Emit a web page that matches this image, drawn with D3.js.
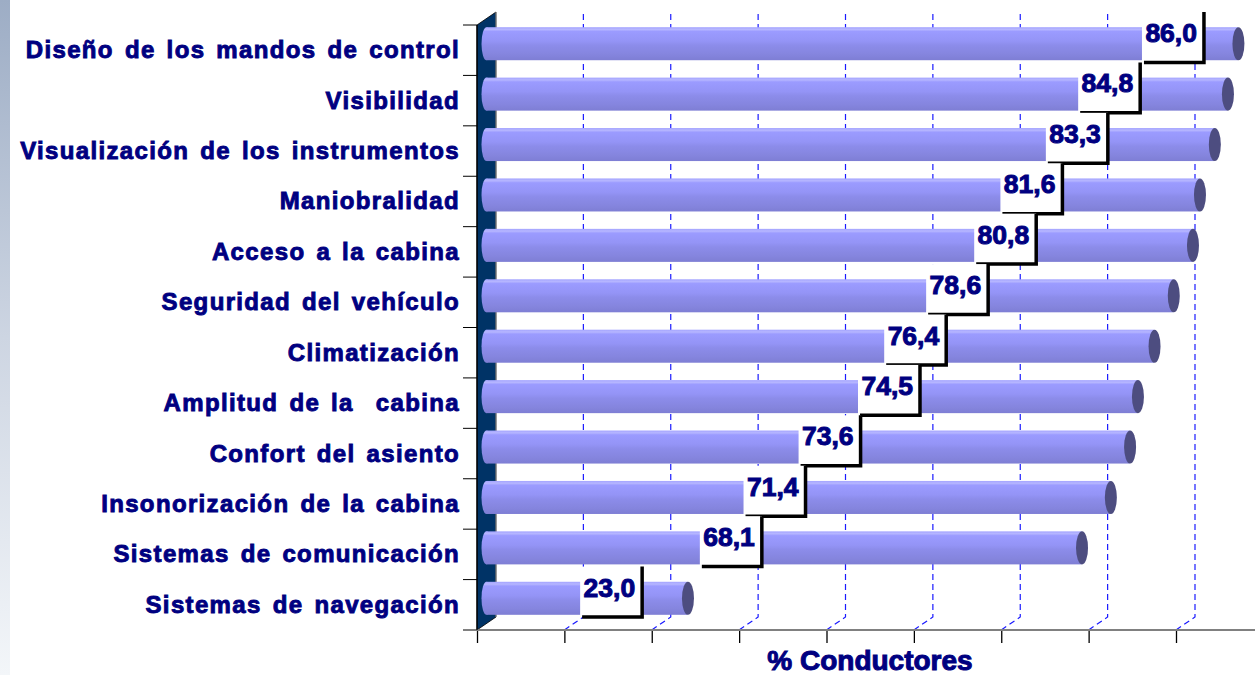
<!DOCTYPE html>
<html><head><meta charset="utf-8">
<script src="https://cdn.jsdelivr.net/npm/d3@7"></script>
<style>
body{margin:0;background:#fff;}
svg{display:block;}
text{font-family:"Liberation Sans",Arial,sans-serif;font-weight:bold;}
</style>
</head><body><svg id="chart" width="1255" height="675"></svg>
<script>
const categories = ["Diseño de los mandos de control","Visibilidad","Visualización de los instrumentos","Maniobralidad","Acceso a la cabina","Seguridad del vehículo","Climatización","Amplitud de la  cabina","Confort del asiento","Insonorización de la cabina","Sistemas de comunicación","Sistemas de navegación"];
const values = [86.0,84.8,83.3,81.6,80.8,78.6,76.4,74.5,73.6,71.4,68.1,23.0];
const labelAt = [83.2,75.9,72.2,67.0,64.0,58.5,53.7,50.7,43.9,37.6,32.6,18.9];
const xTicks = [0,10,20,30,40,50,60,70,80,90];
const axisTitle = "% Conductores";

const W = 1255, H = 675;
const dX = 19, dY = -13;
const x = d3.scaleLinear().domain([0,100]).range([477,1350.75]);
const y = d3.scaleBand().domain(categories).range([25,630]).padding(0);
const step = y.step();
const yTop = y.range()[0], yBot = y.range()[1];
const fmt = d3.formatLocale({decimal:",",thousands:".",grouping:[3],currency:["","€"]}).format(".1f");
const navy = "#000080";

const svg = d3.select("#chart");
const defs = svg.append("defs");
const sg = defs.append("linearGradient").attr("id","strip").attr("x1",0).attr("y1",0).attr("x2",0).attr("y2",1);
sg.append("stop").attr("offset",0).attr("stop-color","#9dadc5");
sg.append("stop").attr("offset",0.5).attr("stop-color","#cdd5e2");
sg.append("stop").attr("offset",1).attr("stop-color","#f3f6f9");
const bg = defs.append("linearGradient").attr("id","barg").attr("x1",0).attr("y1",0).attr("x2",0).attr("y2",1);
[[0,"#a4a4ff"],[0.07,"#b6b6ff"],[0.13,"#9b9bff"],[0.42,"#9494f6"],[0.55,"#8c8cea"],[0.82,"#8585de"],[1,"#7e7ed4"]]
  .forEach(s=>bg.append("stop").attr("offset",s[0]).attr("stop-color",s[1]));

// left gradient strip
svg.append("rect").attr("x",0).attr("y",0).attr("width",10).attr("height",H).attr("fill","url(#strip)");

// back-wall gridlines with floor diagonals
svg.append("g").selectAll("path").data(xTicks.filter(t=>t>0)).join("path")
  .attr("d",t=>`M${x(t)},${yBot}L${x(t)+dX},${yBot+dY}L${x(t)+dX},${yTop+dY}`)
  .attr("fill","none").attr("stroke","#1a1aff").attr("stroke-width",1.2).attr("stroke-dasharray","6,4");

// side wall
svg.append("path")
  .attr("d",`M${x(0)},${yTop}L${x(0)+dX},${yTop+dY}L${x(0)+dX},${yBot+dY}L${x(0)},${yBot}Z`)
  .attr("fill","#003366").attr("stroke","#000").attr("stroke-width",0.8);
svg.append("line").attr("x1",x(0)+dX).attr("x2",x(0)+dX).attr("y1",yTop+dY).attr("y2",yBot+dY)
  .attr("stroke","#9a9a9a").attr("stroke-width",1);

// x axis
const ax = svg.append("g").attr("transform",`translate(0,${yBot})`)
  .call(d3.axisBottom(x).tickValues(xTicks).tickSize(13).tickFormat(""));
ax.select(".domain").remove();
ax.selectAll(".tick line").attr("stroke","#000").attr("stroke-width",1.3);
svg.append("line").attr("x1",463).attr("x2",W).attr("y1",yBot).attr("y2",yBot)
  .attr("stroke","#808080").attr("stroke-width",2);

// y axis line and category ticks
svg.append("line").attr("x1",x(0)).attr("x2",x(0)).attr("y1",yTop).attr("y2",yBot)
  .attr("stroke","#000").attr("stroke-width",1.3);
svg.append("g").selectAll("line").data(categories).join("line")
  .attr("x1",463).attr("x2",x(0)).attr("y1",d=>y(d)).attr("y2",d=>y(d))
  .attr("stroke","#000").attr("stroke-width",1);

// category labels
svg.append("g").selectAll("text").data(categories).join("text")
  .attr("x",460).attr("y",d=>y(d)+step/2+8)
  .attr("text-anchor","end").attr("fill",navy)
  .attr("stroke",navy).attr("stroke-width",0.9)
  .style("font-size","24px").style("letter-spacing","1.35px").style("word-spacing","3px")
  .style("white-space","pre")
  .text(d=>d);

// bars
const barH = step*0.655;
const bars = svg.append("g").selectAll("g").data(categories).join("g");
const cy = (c)=>y(c)+step/2+dY/2;
bars.append("ellipse")
  .attr("cx",x(0)+dX/2).attr("cy",c=>cy(c)).attr("rx",5).attr("ry",barH/2)
  .attr("fill","url(#barg)");
bars.append("rect")
  .attr("x",x(0)+dX/2).attr("y",c=>cy(c)-barH/2)
  .attr("width",(c,i)=>x(values[i])-x(0)).attr("height",barH)
  .attr("fill","url(#barg)");
bars.append("ellipse")
  .attr("cx",(c,i)=>x(values[i])+dX/2+0.5).attr("cy",c=>cy(c)).attr("rx",6).attr("ry",barH/2)
  .attr("fill","#4d4d80");

// value label boxes
const boxW = 62;
const lab = svg.append("g").selectAll("g").data(categories).join("g");
lab.append("rect")
  .attr("x",(c,i)=>x(labelAt[i])-boxW).attr("y",c=>y(c)-13)
  .attr("width",boxW).attr("height",step-1).attr("fill","#fff");
lab.append("path")
  .attr("d",(c,i)=>{const R=x(labelAt[i]),t=y(c)-13;return `M${R},${t}L${R},${t+step}L${R-60},${t+step}`;})
  .attr("fill","none").attr("stroke","#000").attr("stroke-width",3.5);
lab.append("text")
  .attr("x",(c,i)=>x(labelAt[i])-7).attr("y",c=>y(c)-13+30)
  .attr("text-anchor","end").attr("fill",navy)
  .attr("stroke",navy).attr("stroke-width",1)
  .style("font-size","26.5px")
  .text((c,i)=>fmt(values[i]));

// axis title
svg.append("text").attr("x",870).attr("y",670)
  .attr("text-anchor","middle").attr("fill",navy)
  .attr("stroke",navy).attr("stroke-width",1)
  .style("font-size","28px")
  .text(axisTitle);
</script>
</body></html>
